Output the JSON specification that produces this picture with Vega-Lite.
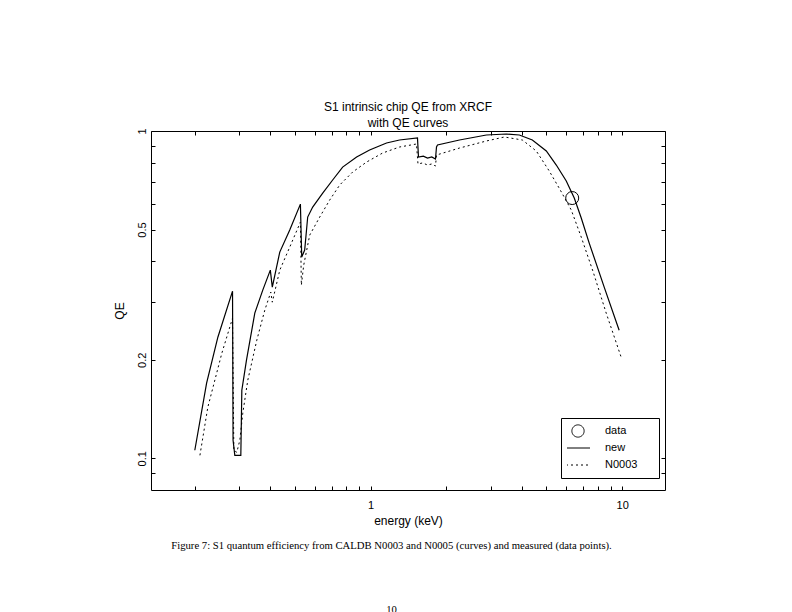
{
  "$schema": "https://vega.github.io/schema/vega-lite/v6.json",
  "width": 514,
  "height": 359,
  "autosize": {"type": "none"},
  "padding": {"left": 151, "top": 131, "right": 127, "bottom": 122},
  "background": "white",
  "title": {
    "text": ["S1 intrinsic chip QE from XRCF", "with QE curves"],
    "font": "Liberation Sans",
    "fontSize": 12,
    "fontWeight": "normal",
    "color": "black",
    "lineHeight": 16,
    "offset": -2,
    "anchor": "middle"
  },
  "config": {
    "view": {"stroke": "black", "strokeWidth": 1},
    "axis": {
      "domain": false,
      "grid": false,
      "tickColor": "black",
      "tickWidth": 1,
      "tickSize": -4,
      "labelColor": "black",
      "titleColor": "black",
      "labelFont": "Liberation Sans",
      "titleFont": "Liberation Sans",
      "labelFontSize": 11,
      "titleFontSize": 12,
      "titleFontWeight": "normal"
    }
  },
  "datasets": {
    "newc": [
      {"series": "new", "energy": 0.2001, "qe": 0.1058},
      {"series": "new", "energy": 0.2229, "qe": 0.1696},
      {"series": "new", "energy": 0.2471, "qe": 0.2344},
      {"series": "new", "energy": 0.2826, "qe": 0.3241},
      {"series": "new", "energy": 0.2840, "qe": 0.1135},
      {"series": "new", "energy": 0.2886, "qe": 0.1021},
      {"series": "new", "energy": 0.3049, "qe": 0.1021},
      {"series": "new", "energy": 0.3077, "qe": 0.1614},
      {"series": "new", "energy": 0.3211, "qe": 0.1994},
      {"series": "new", "energy": 0.3465, "qe": 0.2776},
      {"series": "new", "energy": 0.3727, "qe": 0.3264},
      {"series": "new", "energy": 0.3994, "qe": 0.3757},
      {"series": "new", "energy": 0.4067, "qe": 0.3334},
      {"series": "new", "energy": 0.4355, "qe": 0.4266},
      {"series": "new", "energy": 0.4771, "qe": 0.4980},
      {"series": "new", "energy": 0.5260, "qe": 0.5978},
      {"series": "new", "energy": 0.5324, "qe": 0.4119},
      {"series": "new", "energy": 0.5470, "qe": 0.4326},
      {"series": "new", "energy": 0.5623, "qe": 0.5458},
      {"series": "new", "energy": 0.5886, "qe": 0.5855},
      {"series": "new", "energy": 0.6451, "qe": 0.6462},
      {"series": "new", "energy": 0.7067, "qe": 0.7084},
      {"series": "new", "energy": 0.7743, "qe": 0.7757},
      {"series": "new", "energy": 0.8800, "qe": 0.8325},
      {"series": "new", "energy": 0.9910, "qe": 0.8747},
      {"series": "new", "energy": 1.157, "qe": 0.9190},
      {"series": "new", "energy": 1.303, "qe": 0.9386},
      {"series": "new", "energy": 1.536, "qe": 0.9519},
      {"series": "new", "energy": 1.550, "qe": 0.8325},
      {"series": "new", "energy": 1.620, "qe": 0.8380},
      {"series": "new", "energy": 1.684, "qe": 0.8270},
      {"series": "new", "energy": 1.750, "qe": 0.8330},
      {"series": "new", "energy": 1.811, "qe": 0.8212},
      {"series": "new", "energy": 1.828, "qe": 0.8935},
      {"series": "new", "energy": 1.845, "qe": 0.9060},
      {"series": "new", "energy": 2.256, "qe": 0.9386},
      {"series": "new", "energy": 2.886, "qe": 0.9722},
      {"series": "new", "energy": 3.465, "qe": 0.9791},
      {"series": "new", "energy": 3.902, "qe": 0.9722},
      {"series": "new", "energy": 4.395, "qe": 0.9386},
      {"series": "new", "energy": 4.994, "qe": 0.8686},
      {"series": "new", "energy": 5.472, "qe": 0.7871},
      {"series": "new", "energy": 5.995, "qe": 0.7034},
      {"series": "new", "energy": 6.450, "qe": 0.6237},
      {"series": "new", "energy": 6.876, "qe": 0.5420},
      {"series": "new", "energy": 7.396, "qe": 0.4545},
      {"series": "new", "energy": 8.483, "qe": 0.3334},
      {"series": "new", "energy": 9.728, "qe": 0.2462}
    ],
    "oldc": [
      {"series": "N0003", "energy": 0.2097, "qe": 0.1021},
      {"series": "N0003", "energy": 0.2254, "qe": 0.1432},
      {"series": "N0003", "energy": 0.2563, "qe": 0.2095},
      {"series": "N0003", "energy": 0.2826, "qe": 0.2680},
      {"series": "N0003", "energy": 0.2860, "qe": 0.1058},
      {"series": "N0003", "energy": 0.2939, "qe": 0.1043},
      {"series": "N0003", "energy": 0.3021, "qe": 0.1135},
      {"series": "N0003", "energy": 0.3104, "qe": 0.1373},
      {"series": "N0003", "energy": 0.3250, "qe": 0.1733},
      {"series": "N0003", "energy": 0.3529, "qe": 0.2296},
      {"series": "N0003", "energy": 0.3797, "qe": 0.2836},
      {"series": "N0003", "energy": 0.4011, "qe": 0.3219},
      {"series": "N0003", "energy": 0.4067, "qe": 0.2999},
      {"series": "N0003", "energy": 0.4355, "qe": 0.3757},
      {"series": "N0003", "energy": 0.4771, "qe": 0.4418},
      {"series": "N0003", "energy": 0.5260, "qe": 0.5268},
      {"series": "N0003", "energy": 0.5306, "qe": 0.3381},
      {"series": "N0003", "energy": 0.5421, "qe": 0.3890},
      {"series": "N0003", "energy": 0.5728, "qe": 0.4808},
      {"series": "N0003", "energy": 0.6277, "qe": 0.5458},
      {"series": "N0003", "energy": 0.6876, "qe": 0.6151},
      {"series": "N0003", "energy": 0.7534, "qe": 0.6837},
      {"series": "N0003", "energy": 0.8484, "qe": 0.7491},
      {"series": "N0003", "energy": 0.9640, "qe": 0.8038},
      {"series": "N0003", "energy": 1.116, "qe": 0.8564},
      {"series": "N0003", "energy": 1.303, "qe": 0.8935},
      {"series": "N0003", "energy": 1.522, "qe": 0.9126},
      {"series": "N0003", "energy": 1.543, "qe": 0.7926},
      {"series": "N0003", "energy": 1.610, "qe": 0.7990},
      {"series": "N0003", "energy": 1.684, "qe": 0.7871},
      {"series": "N0003", "energy": 1.750, "qe": 0.7930},
      {"series": "N0003", "energy": 1.811, "qe": 0.7815},
      {"series": "N0003", "energy": 1.828, "qe": 0.8446},
      {"series": "N0003", "energy": 2.256, "qe": 0.8870},
      {"series": "N0003", "energy": 2.886, "qe": 0.9321},
      {"series": "N0003", "energy": 3.402, "qe": 0.9586},
      {"series": "N0003", "energy": 4.011, "qe": 0.9386},
      {"series": "N0003", "energy": 4.557, "qe": 0.8686},
      {"series": "N0003", "energy": 5.132, "qe": 0.7544},
      {"series": "N0003", "energy": 5.675, "qe": 0.6601},
      {"series": "N0003", "energy": 6.277, "qe": 0.5734},
      {"series": "N0003", "energy": 6.876, "qe": 0.4740},
      {"series": "N0003", "energy": 7.674, "qe": 0.3705},
      {"series": "N0003", "energy": 8.642, "qe": 0.2776},
      {"series": "N0003", "energy": 9.909, "qe": 0.2036}
    ],
    "meas": [
      {"series": "data", "energy": 6.33, "qe": 0.624}
    ]
  },
  "resolve": {"axis": {"x": "independent", "y": "independent"}},
  "layer": [
    {
      "data": {"name": "newc"},
      "mark": {"type": "line", "strokeWidth": 1.2, "interpolate": "linear"},
      "encoding": {
        "x": {
          "field": "energy",
          "type": "quantitative",
          "scale": {"type": "log", "domain": [0.134, 14.8], "nice": false},
          "axis": {
            "orient": "bottom",
            "title": "energy (keV)",
            "values": [0.2, 0.3, 0.4, 0.5, 0.6, 0.7, 0.8, 0.9, 1, 2, 3, 4, 5, 6, 7, 8, 9, 10],
            "labelExpr": "datum.value == 1 ? '1' : datum.value == 10 ? '10' : ''",
            "labelPadding": 13,
            "titlePadding": 5,
            "labelFlush": false,
            "labelOverlap": false,
            "encode": {"ticks": {"update": {"y2": {"signal": "(datum.value == 1 || datum.value == 10) ? -7 : -4"}}}}
          }
        },
        "y": {
          "field": "qe",
          "type": "quantitative",
          "scale": {"type": "log", "domain": [0.08, 1], "nice": false},
          "axis": {
            "orient": "left",
            "title": "QE",
            "values": [0.09, 0.1, 0.2, 0.3, 0.4, 0.5, 0.6, 0.7, 0.8, 0.9, 1],
            "labelExpr": "datum.value == 0.1 ? '0.1' : datum.value == 0.2 ? '0.2' : datum.value == 0.5 ? '0.5' : datum.value == 1 ? '1' : ''",
            "labelAngle": 270,
            "labelPadding": 8,
            "titlePadding": 10,
            "labelFlush": false,
            "labelOverlap": false,
            "encode": {"ticks": {"update": {"x2": {"signal": "(datum.value == 0.1 || datum.value == 1) ? 7 : 4"}}}}
          }
        },
        "color": {
          "field": "series",
          "type": "nominal",
          "scale": {"domain": ["data", "new", "N0003"], "range": ["black", "black", "black"]},
          "legend": {
            "title": null,
            "orient": "none",
            "legendX": 410,
            "legendY": 287,
            "strokeColor": "black",
            "fillColor": "white",
            "padding": 6,
            "symbolSize": 576,
            "symbolStrokeWidth": 1,
            "clipHeight": 14,
            "labelFont": "Liberation Sans",
            "labelFontSize": 11,
            "labelColor": "black",
            "labelOffset": 13,
            "rowPadding": 3,
            "labelExpr": "datum.label + '\u00a0\u00a0\u00a0\u00a0\u00a0\u200b'",
            "encode": {
              "symbols": {
                "update": {
                  "shape": {"signal": "datum.value == 'data' ? 'circle' : 'stroke'"},
                  "size": {"signal": "datum.value == 'data' ? 150 : 576"},
                  "strokeDash": {"signal": "datum.value == 'N0003' ? [2, 3] : [1, 0]"},
                  "stroke": {"value": "black"},
                  "fill": {"value": "transparent"},
                  "strokeWidth": {"value": 1},
                  "opacity": {"value": 1},
                  "x": {"value": 11}
                }
              }
            }
          }
        }
      }
    },
    {
      "data": {"name": "oldc"},
      "mark": {"type": "line", "strokeWidth": 1, "strokeDash": [2, 3], "interpolate": "linear"},
      "encoding": {
        "x": {
          "field": "energy",
          "type": "quantitative",
          "scale": {"type": "log", "domain": [0.134, 14.8], "nice": false},
          "axis": {
            "orient": "top",
            "title": null,
            "labels": false,
            "values": [0.2, 0.3, 0.4, 0.5, 0.6, 0.7, 0.8, 0.9, 1, 2, 3, 4, 5, 6, 7, 8, 9, 10],
            "encode": {"ticks": {"update": {"y2": {"signal": "(datum.value == 1 || datum.value == 10) ? 7 : 4"}}}}
          }
        },
        "y": {
          "field": "qe",
          "type": "quantitative",
          "scale": {"type": "log", "domain": [0.08, 1], "nice": false},
          "axis": {
            "orient": "right",
            "title": null,
            "labels": false,
            "values": [0.09, 0.1, 0.2, 0.3, 0.4, 0.5, 0.6, 0.7, 0.8, 0.9, 1],
            "encode": {"ticks": {"update": {"x2": {"signal": "(datum.value == 0.1 || datum.value == 1) ? -7 : -4"}}}}
          }
        },
        "color": {
          "field": "series",
          "type": "nominal",
          "scale": {"domain": ["data", "new", "N0003"], "range": ["black", "black", "black"]}
        }
      }
    },
    {
      "data": {"name": "meas"},
      "mark": {"type": "point", "shape": "circle", "filled": false, "size": 169, "strokeWidth": 1, "opacity": 1},
      "encoding": {
        "x": {
          "field": "energy",
          "type": "quantitative",
          "scale": {"type": "log", "domain": [0.134, 14.8], "nice": false},
          "axis": {
            "orient": "bottom",
            "ticks": false,
            "labels": false,
            "domain": false,
            "title": ["Figure 7: S1 quantum efficiency from CALDB N0003 and N0005 (curves) and measured (data points).", "10"],
            "titleFont": "Liberation Serif",
            "titleFontSize": 10.7,
            "titleFontWeight": "normal",
            "titleLineHeight": 64,
            "titleBaseline": "top",
            "titleAlign": "center",
            "titleX": 240,
            "titlePadding": 50
          }
        },
        "y": {
          "field": "qe",
          "type": "quantitative",
          "scale": {"type": "log", "domain": [0.08, 1], "nice": false},
          "axis": null
        },
        "color": {
          "field": "series",
          "type": "nominal",
          "scale": {"domain": ["data", "new", "N0003"], "range": ["black", "black", "black"]}
        }
      }
    }
  ]
}
